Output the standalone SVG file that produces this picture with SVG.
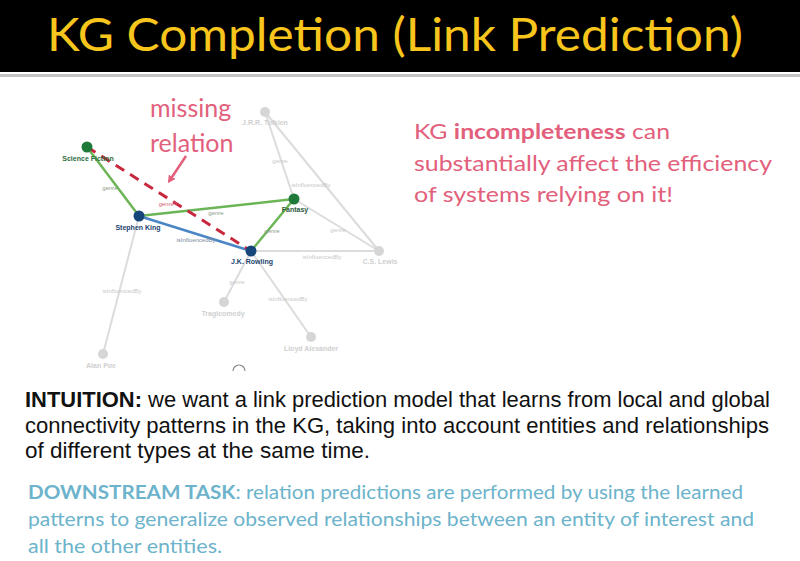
<svg xmlns="http://www.w3.org/2000/svg" width="800" height="561" viewBox="0 0 800 561">
<style>
.title{font-family:Lato,"Open Sans",sans-serif;font-size:46px;fill:#f7c51c}
.pink{font-family:Lato,"Open Sans",sans-serif;font-size:21.5px;fill:#e2607c}
.miss{font-family:Lato,"Open Sans",sans-serif;font-size:25px;fill:#e2607c}
.intu{font-family:"Liberation Sans",Arial,sans-serif;font-size:22px;fill:#111}
.down{font-family:Lato,"Open Sans",sans-serif;font-size:19.5px;fill:#6cb3cb}
.lbl{font-family:"Liberation Sans",Arial,sans-serif;font-size:7px;font-weight:bold;text-anchor:middle}
.glbl{fill:#cfcfcf}
.elbl{font-family:"Liberation Sans",Arial,sans-serif;font-size:6px;text-anchor:middle;fill:#c8c8c8}
.gray{stroke:#dcdcdc;stroke-width:2;fill:none}
.green{stroke:#6cb556;stroke-width:2.5;fill:none}
.gnode{fill:#d6d6d6}
</style>
<defs>
<marker id="ah" markerWidth="8" markerHeight="8" refX="4" refY="4" orient="auto" markerUnits="userSpaceOnUse">
<path d="M0,0 L8,4 L0,8 z" fill="#e2607c"/>
</marker>
</defs>
<rect width="800" height="561" fill="#fff"/>
<rect x="0" y="0" width="800" height="72" fill="#000"/>
<rect x="0" y="74" width="800" height="3" fill="#c4c4c4"/>
<text class="title" x="47" y="51" textLength="696" lengthAdjust="spacingAndGlyphs">KG Completion (Link Prediction)</text>

<g id="connectors">
<line class="gray" x1="265" y1="112" x2="294" y2="199"/>
<line class="gray" x1="265" y1="112" x2="379" y2="251"/>
<line class="gray" x1="294" y1="199" x2="379" y2="251"/>
<line class="gray" x1="251" y1="251" x2="379" y2="251"/>
<line class="gray" x1="251" y1="251" x2="224" y2="302"/>
<line class="gray" x1="251" y1="251" x2="311" y2="337"/>
<line class="gray" x1="139" y1="216" x2="103" y2="354"/>
<line class="green" x1="87" y1="147" x2="139" y2="216"/>
<line class="green" x1="139" y1="216" x2="294" y2="199"/>
<line class="green" x1="294" y1="199" x2="251" y2="251"/>
<line x1="139" y1="216" x2="251" y2="251" stroke="#4a86c5" stroke-width="2.5"/>
<line x1="87" y1="147" x2="251" y2="251" stroke="#c8283e" stroke-width="3" stroke-dasharray="10,7"/>
<line x1="186" y1="156" x2="170" y2="180" stroke="#e2607c" stroke-width="2.5" marker-end="url(#ah)"/>
<text class="elbl" x="280" y="163">genre</text>
<text class="elbl" x="311" y="187">isInfluencedBy</text>
<text class="elbl" x="338" y="232">genre</text>
<text class="elbl" x="322" y="259">isInfluencedBy</text>
<text class="elbl" x="237" y="284">genre</text>
<text class="elbl" x="288" y="301">isInfluencedBy</text>
<text class="elbl" x="122" y="293">isInfluencedBy</text>
<text class="elbl" x="110" y="190" style="fill:#8a9a8a">genre</text>
<text class="elbl" x="216" y="215" style="fill:#8a9a8a">genre</text>
<text class="elbl" x="272" y="233" style="fill:#8a9a8a">genre</text>
<text class="elbl" x="196" y="242" style="fill:#7c8aa0">isInfluencedBy</text>
<text class="elbl" x="168" y="206" style="fill:#d86070">genre?</text>
</g>

<g id="missing-relation">
<text class="miss" x="150" y="117">missing</text>
<text class="miss" x="150" y="152">relation</text>
</g>

<g id="science-fiction">
<circle cx="87" cy="147" r="5.5" fill="#1f7a3a"/>
<text class="lbl" x="88" y="161" fill="#2e6b3c">Science Fiction</text>
</g>
<g id="stephen-king">
<circle cx="139" cy="216" r="5.5" fill="#16457a"/>
<text class="lbl" x="138" y="230" fill="#23446e">Stephen King</text>
</g>
<g id="fantasy">
<circle cx="294" cy="199" r="5.5" fill="#1f7a3a"/>
<text class="lbl" x="295" y="212" fill="#2e5a3c">Fantasy</text>
</g>
<g id="jk-rowling">
<circle cx="251" cy="251" r="5.5" fill="#16457a"/>
<text class="lbl" x="252" y="264" fill="#23446e">J.K. Rowling</text>
</g>
<g id="tolkien">
<circle class="gnode" cx="265" cy="112" r="5"/>
<text class="lbl glbl" x="265" y="125">J.R.R. Tolkien</text>
</g>
<g id="cs-lewis">
<circle class="gnode" cx="379" cy="251" r="5"/>
<text class="lbl glbl" x="380" y="264">C.S. Lewis</text>
</g>
<g id="tragicomedy">
<circle class="gnode" cx="224" cy="302" r="5"/>
<text class="lbl glbl" x="223" y="316">Tragicomedy</text>
</g>
<g id="lloyd-alexander">
<circle class="gnode" cx="311" cy="337" r="5"/>
<text class="lbl glbl" x="311" y="351">Lloyd Alexander</text>
</g>
<g id="alan-poe">
<circle class="gnode" cx="103" cy="354" r="5"/>
<text class="lbl glbl" x="101" y="368">Alan Poe</text>
</g>
<g id="partial-node">
<path d="M233,371 A6,6 0 0 1 245,371" fill="none" stroke="#888" stroke-width="1.2"/>
</g>

<g id="incompleteness-note">
<text class="pink" x="414" y="139" textLength="256" lengthAdjust="spacingAndGlyphs">KG <tspan font-weight="bold">incompleteness</tspan> can</text>
<text class="pink" x="414" y="171" textLength="358" lengthAdjust="spacingAndGlyphs">substantially affect the efficiency</text>
<text class="pink" x="414" y="202" textLength="259" lengthAdjust="spacingAndGlyphs">of systems relying on it!</text>
</g>

<g id="intuition">
<text class="intu" x="25" y="407" textLength="745" lengthAdjust="spacingAndGlyphs"><tspan font-weight="bold">INTUITION:</tspan> we want a link prediction model that learns from local and global</text>
<text class="intu" x="25" y="433" textLength="744" lengthAdjust="spacingAndGlyphs">connectivity patterns in the KG, taking into account entities and relationships</text>
<text class="intu" x="25" y="458" textLength="345" lengthAdjust="spacingAndGlyphs">of different types at the same time.</text>
</g>

<g id="downstream">
<text class="down" x="28" y="499" textLength="715" lengthAdjust="spacingAndGlyphs"><tspan font-weight="bold">DOWNSTREAM TASK</tspan>: relation predictions are performed by using the learned</text>
<text class="down" x="28" y="526" textLength="726" lengthAdjust="spacingAndGlyphs">patterns to generalize observed relationships between an entity of interest and</text>
<text class="down" x="28" y="553" textLength="194" lengthAdjust="spacingAndGlyphs">all the other entities.</text>
</g>
</svg>
